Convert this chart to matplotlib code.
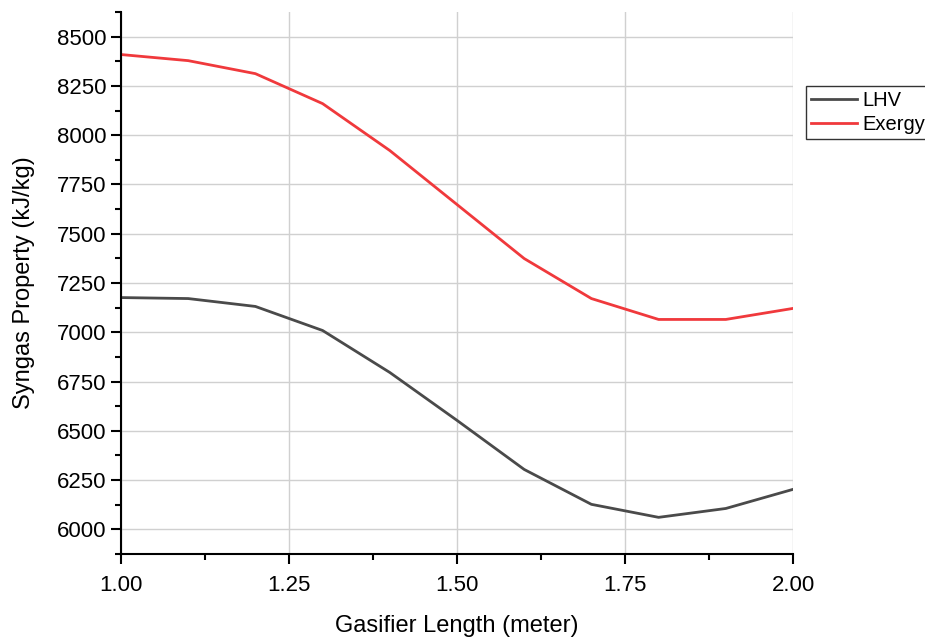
import matplotlib.pyplot as plt
import numpy as np
from matplotlib.ticker import MultipleLocator

plt.rc('font', family=['Liberation Sans', 'DejaVu Sans'])

length = [1.0, 1.1, 1.2, 1.3, 1.4, 1.5, 1.6, 1.7, 1.8, 1.9, 2.0]
lhv = [7176, 7171, 7131, 7009, 6796, 6553, 6304, 6127, 6061, 6106, 6203]
exergy = [8409, 8378, 8312, 8160, 7922, 7648, 7374, 7171, 7065, 7065, 7121]

fig = plt.figure(figsize=(9.25, 6.43), dpi=100)
ax = fig.add_axes([0.1308, 0.1384, 0.7265, 0.843])

ax.plot(length, lhv, color='#4a4a4a', lw=2, label='LHV')
ax.plot(length, exergy, color='#f0393c', lw=2, label='Exergy')

ax.set_xlim(1.0, 2.0)
ax.set_ylim(5875, 8625)
ax.xaxis.set_major_locator(MultipleLocator(0.25))
ax.xaxis.set_minor_locator(MultipleLocator(0.125))
ax.yaxis.set_major_locator(MultipleLocator(250))
ax.yaxis.set_minor_locator(MultipleLocator(125))
ax.xaxis.set_major_formatter('{x:.2f}')

ax.grid(True, which='major', color='#d0d0d0', lw=1)
ax.set_axisbelow(True)
for s in ['top', 'right']:
    ax.spines[s].set_visible(False)
for s in ['left', 'bottom']:
    ax.spines[s].set_linewidth(1.5)
ax.tick_params(which='major', direction='out', length=7, width=1.5, labelsize=16)
ax.tick_params(which='minor', direction='out', length=4, width=1.5)
ax.tick_params(axis='x', pad=8)

ax.set_xlabel('Gasifier Length (meter)', fontsize=17, labelpad=14)
ax.set_ylabel('Syngas Property (kJ/kg)', fontsize=17, labelpad=16)

leg = ax.legend(loc='upper left', bbox_to_anchor=(1.019, 0.863), fontsize=14.5,
                frameon=True, fancybox=False, edgecolor='black', handlelength=2.3,
                borderpad=0.25, labelspacing=0.25, handletextpad=0.25,
                borderaxespad=0)
leg.get_frame().set_linewidth(1)

plt.savefig('out.png', dpi=100)
